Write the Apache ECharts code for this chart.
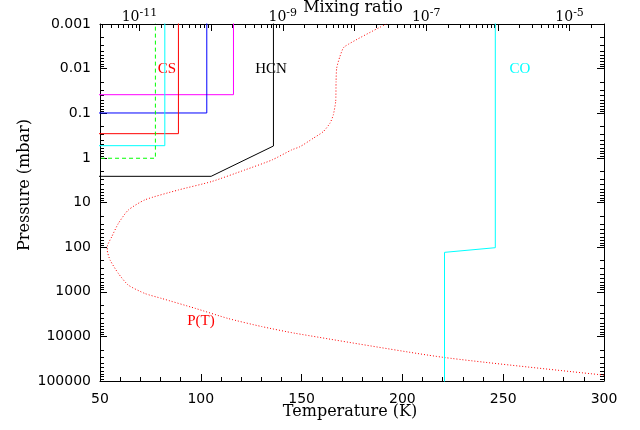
<!DOCTYPE html>
<html>
<head>
<meta charset="utf-8">
<script src="https://cdn.jsdelivr.net/npm/echarts@6/dist/echarts.min.js"></script>
<style>
  html, body { margin: 0; padding: 0; background: #fff; }
  #chart { width: 640px; height: 430px; }
</style>
</head>
<body>
<div id="chart"></div>
<script>
// temperature profile P(T): temperature in K, pressure in mbar
const ptTemp = [192, 171.2, 169.0, 167.4, 167.1, 166.9, 165.7, 164.1, 160.8, 155.8, 149.2, 145.1, 135.2, 121.9, 105.4, 88.8, 72.3, 64.0, 59.1, 55.8, 53.6, 53.6, 55.0, 59.1, 64.0, 72.3, 80.6, 97.1, 113.6, 130.2, 146.7, 220.3, 300.5];
const ptPres = [0.001, 0.00324, 0.00537, 0.00977, 0.0195, 0.055, 0.11, 0.166, 0.257, 0.363, 0.562, 0.661, 1.12, 1.86, 3.39, 5.25, 8.71, 14.8, 29.5, 58.9, 97.7, 117, 195, 389, 708, 1096, 1413, 2344, 3981, 6026, 8511, 29512, 74131];

// mixing ratio profiles (ratio, pressure in mbar)
const csMagRatio = [1e-13, 2.05e-10, 2.05e-10];
const csMagPres = [0.0384, 0.0384, 1e-4];
const csBlueRatio = [1e-13, 8.7e-11, 8.7e-11];
const csBluePres = [0.0986, 0.0986, 1e-4];
const csRedRatio = [1e-13, 3.5e-11, 3.5e-11];
const csRedPres = [0.287, 0.287, 1e-4];
const csCyanRatio = [1e-13, 2.26e-11, 2.26e-11];
const csCyanPres = [0.533, 0.533, 1e-4];
const csGreenRatio = [1e-13, 1.67e-11, 1.67e-11];
const csGreenPres = [1.02, 1.02, 1e-4];
const hcnRatio = [1e-13, 1.0e-10, 7.4e-10, 7.4e-10];
const hcnPres = [2.59, 2.59, 0.542, 1e-4];
const coRatio = [9.2e-7, 9.2e-7, 1.8e-7, 1.8e-7];
const coPres = [1e-4, 103, 131, 2e5];

// tick labels
const yTickLabels = ['0.001', '0.01', '0.1', '1', '10', '100', '1000', '10000', '100000'];
const topLabelExp = [-11, -9, -7, -5];
const topMajorExp = [-11, -10, -9, -8, -7, -6, -5];

const serif = 'DejaVu Serif';
const sans = 'DejaVu Sans';

// log minor ticks (2..9 in each decade)
const yMinor = [];
for (let d = -3; d < 5; d++) for (let m = 2; m < 10; m++) yMinor.push(d + Math.log10(m));
const topMin = -11.55, topMax = -4.52;
const topMinor = [];
for (let d = -12; d < -4; d++) for (let m = 2; m < 10; m++) {
  const v = d + Math.log10(m);
  if (v > topMin && v < topMax) topMinor.push(v);
}

const lg = (a, b) => a.map((v, i) => [Math.log10(v), Math.log10(b[i])]);

const chart = echarts.init(document.getElementById('chart'));

const mrLine = (name, ratio, pres, color, type) => ({
  name: name,
  type: 'line',
  xAxisIndex: 1,
  yAxisIndex: 0,
  symbol: 'none',
  clip: true,
  lineStyle: { color: color, width: 1, type: type || 'solid' },
  data: lg(ratio, pres)
});

const noLabel = { show: false };
const noLine = { show: false, onZero: false };
const axLine = { show: true, onZero: false, lineStyle: { color: '#000', width: 1 } };

chart.setOption({
  animation: false,
  grid: { left: 100, right: 36, top: 24, bottom: 49 },
  xAxis: [
    {
      type: 'value', position: 'bottom', min: 50, max: 300, interval: 50,
      axisLine: axLine,
      axisTick: { inside: true, length: 7, lineStyle: { color: '#000' } },
      minorTick: { show: true, splitNumber: 5, length: 4, lineStyle: { color: '#000' } },
      splitLine: { show: false },
      axisLabel: { color: '#000', fontFamily: sans, fontSize: 14, margin: 11 }
    },
    {
      type: 'value', position: 'top', min: topMin, max: topMax,
      axisLine: axLine,
      axisTick: { inside: true, length: 7, customValues: topMajorExp, lineStyle: { color: '#000' } },
      splitLine: { show: false },
      axisLabel: {
        customValues: topLabelExp, margin: -2, color: '#000',
        formatter: v => '{b|10}{s|' + Math.round(v) + '}',
        rich: {
          b: { fontFamily: serif, fontSize: 14, color: '#000' },
          s: { fontFamily: serif, fontSize: 11, color: '#000', padding: [0, 0, 7, 0] }
        }
      }
    },
    {
      type: 'value', position: 'top', min: topMin, max: topMax,
      axisLine: noLine, splitLine: { show: false }, axisLabel: noLabel,
      axisTick: { inside: true, length: 4, customValues: topMinor, lineStyle: { color: '#000' } }
    }
  ],
  yAxis: [
    {
      type: 'value', position: 'left', inverse: true, min: -3, max: 5, interval: 1,
      axisLine: axLine,
      axisTick: { show: true, inside: true, length: 7, lineStyle: { color: '#000' } },
      splitLine: { show: false },
      axisLabel: {
        color: '#000', fontFamily: sans, fontSize: 14, margin: 9,
        formatter: v => yTickLabels[Math.round(v) + 3]
      }
    },
    {
      type: 'value', position: 'left', inverse: true, min: -3, max: 5,
      axisLine: noLine, splitLine: { show: false }, axisLabel: noLabel,
      axisTick: { show: true, inside: true, length: 4, customValues: yMinor, lineStyle: { color: '#000' } }
    },
    {
      type: 'value', position: 'right', inverse: true, min: -3, max: 5, interval: 1,
      axisLine: axLine,
      axisTick: { show: true, inside: true, length: 7, lineStyle: { color: '#000' } },
      splitLine: { show: false }, axisLabel: noLabel
    },
    {
      type: 'value', position: 'right', inverse: true, min: -3, max: 5,
      axisLine: noLine, splitLine: { show: false }, axisLabel: noLabel,
      axisTick: { show: true, inside: true, length: 4, customValues: yMinor, lineStyle: { color: '#000' } }
    }
  ],
  graphic: [
    { type: 'text', x: 25, y: 185, rotation: Math.PI / 2,
      style: { text: 'Pressure (mbar)', font: '16px "DejaVu Serif"', fill: '#000', align: 'center', verticalAlign: 'middle' } },
    { type: 'text', x: 350, y: 412,
      style: { text: 'Temperature (K)', font: '16px "DejaVu Serif"', fill: '#000', align: 'center', verticalAlign: 'middle' } },
    { type: 'text', x: 353, y: 8,
      style: { text: 'Mixing ratio', font: '16px "DejaVu Serif"', fill: '#000', align: 'center', verticalAlign: 'middle' } },
    { type: 'text', x: 167, y: 69,
      style: { text: 'CS', font: '15px "Liberation Serif"', fill: '#ff0000', align: 'center', verticalAlign: 'middle' } },
    { type: 'text', x: 271, y: 69,
      style: { text: 'HCN', font: '15px "Liberation Serif"', fill: '#000', align: 'center', verticalAlign: 'middle' } },
    { type: 'text', x: 520, y: 69,
      style: { text: 'CO', font: '15px "Liberation Serif"', fill: '#00ffff', align: 'center', verticalAlign: 'middle' } },
    { type: 'text', x: 201, y: 321,
      style: { text: 'P(T)', font: '15px "Liberation Serif"', fill: '#ff0000', align: 'center', verticalAlign: 'middle' } }
  ],
  series: [
    {
      name: 'P(T)', type: 'line', xAxisIndex: 0, yAxisIndex: 0, symbol: 'none', smooth: 0.2,
      clip: true,
      lineStyle: { color: '#ff0000', width: 1, type: [1, 2] },
      data: ptTemp.map((t, i) => [t, Math.log10(ptPres[i])])
    },
    mrLine('CS 4', csMagRatio, csMagPres, '#ff00ff'),
    mrLine('CS 3', csBlueRatio, csBluePres, '#0000ff'),
    mrLine('CS 2', csRedRatio, csRedPres, '#ff0000'),
    mrLine('CS 1', csCyanRatio, csCyanPres, '#00ffff'),
    mrLine('CS 0', csGreenRatio, csGreenPres, '#00ff00', [4, 3]),
    mrLine('HCN', hcnRatio, hcnPres, '#000000'),
    mrLine('CO', coRatio, coPres, '#00ffff')
  ]
});
</script>
</body>
</html>
